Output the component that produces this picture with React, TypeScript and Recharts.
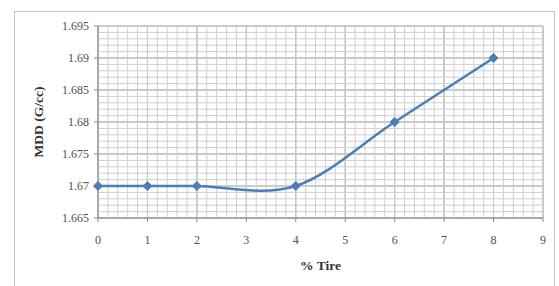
import React from "react";
import { LineChart, Line, XAxis, YAxis, CartesianGrid, Label, ReferenceLine } from "recharts";

const tirePercent = [0, 1, 2, 4, 6, 8];
const mddValues = [1.67, 1.67, 1.67, 1.67, 1.68, 1.69];
const xTicks = [0, 1, 2, 3, 4, 5, 6, 7, 8, 9];
const yTicks = [1.665, 1.67, 1.675, 1.68, 1.685, 1.69, 1.695];

const data = tirePercent.map((x, i) => ({ x, y: mddValues[i] }));

const minorX = Array.from({ length: 46 }, (_, i) => +(i * 0.2).toFixed(2));
const minorY = Array.from({ length: 31 }, (_, i) => +(1.665 + i * 0.001).toFixed(3));

// Excel-style smoothed line (Catmull-Rom with 1/6 tangents)
function excelCurve(context: any) {
  let pts: number[][] = [];
  return {
    areaStart() {},
    areaEnd() {},
    lineStart() {
      pts = [];
    },
    point(x: number, y: number) {
      pts.push([+x, +y]);
    },
    lineEnd() {
      const n = pts.length;
      if (!n) return;
      context.moveTo(pts[0][0], pts[0][1]);
      for (let i = 0; i < n - 1; i++) {
        const p0 = pts[i - 1] || pts[i];
        const p1 = pts[i];
        const p2 = pts[i + 1];
        const p3 = pts[i + 2] || p2;
        context.bezierCurveTo(
          p1[0] + (p2[0] - p0[0]) / 6,
          p1[1] + (p2[1] - p0[1]) / 6,
          p2[0] - (p3[0] - p1[0]) / 6,
          p2[1] - (p3[1] - p1[1]) / 6,
          p2[0],
          p2[1]
        );
      }
    },
  };
}

const Diamond = (props: any) => {
  const { cx, cy, index } = props;
  if (cx == null || cy == null) return null;
  const r = 4.5;
  return (
    <path
      key={`d-${index}`}
      d={`M${cx},${cy - r}L${cx + r},${cy}L${cx},${cy + r}L${cx - r},${cy}Z`}
      fill="#4a7ebb"
      stroke="#4a7ebb"
    />
  );
};

const font = "'Liberation Serif', 'Times New Roman', serif";

const XTick = (props: any) => {
  const { x, y, payload } = props;
  return (
    <text x={x} y={y + 20} textAnchor="middle" style={{ fontFamily: font }} fontSize={12} fill="#505050">
      {payload.value}
    </text>
  );
};

const YTick = (props: any) => {
  const { x, y, payload } = props;
  return (
    <text x={x - 3} y={y + 4} textAnchor="end" style={{ fontFamily: font }} fontSize={12} fill="#505050">
      {payload.value}
    </text>
  );
};

export default function App() {
  return (
    <div style={{ position: "fixed", left: 0, top: 0, width: 559, height: 286, background: "#fff", overflow: "hidden" }}>
      <div
        style={{
          position: "absolute",
          left: 14,
          top: 11,
          width: 541,
          height: 300,
          border: "1px solid #c4c4c4",
          boxSizing: "border-box",
        }}
      />
      <div style={{ position: "absolute", left: 0, top: 0 }}>
        <LineChart width={559} height={286} data={data} margin={{ top: 26, right: 16, bottom: 38, left: 38 }}>
          {minorX.map((v) => (
            <ReferenceLine key={`mx${v}`} x={v} stroke="#cfcfcf" strokeWidth={1} />
          ))}
          {minorY.map((v) => (
            <ReferenceLine key={`my${v}`} y={v} stroke="#cfcfcf" strokeWidth={1} />
          ))}
          <CartesianGrid
            stroke="#8c8c8c"
            strokeWidth={1}
            fill="none"
            verticalValues={xTicks}
            horizontalValues={yTicks}
          />
          <XAxis
            dataKey="x"
            type="number"
            domain={[0, 9]}
            ticks={xTicks}
            height={30}
            stroke="#888"
            tickSize={4}
            tick={<XTick />}
          >
            <Label
              value="% Tire"
              position="bottom"
              offset={12}
              style={{ fill: "#333", fontSize: 13.5, fontWeight: "bold", fontFamily: font }}
            />
          </XAxis>
          <YAxis
            dataKey="y"
            type="number"
            domain={[1.665, 1.695]}
            ticks={yTicks}
            width={60}
            stroke="#888"
            tickSize={4}
            tick={<YTick />}
          >
            <Label
              value="MDD (G/cc)"
              angle={-90}
              position="left"
              offset={0}
              style={{ fill: "#333", fontSize: 13.5, fontWeight: "bold", fontFamily: font, textAnchor: "middle" }}
            />
          </YAxis>
          <Line
            dataKey="y"
            type={excelCurve as any}
            stroke="#4a7ebb"
            strokeWidth={2.5}
            dot={<Diamond />}
            activeDot={false}
            isAnimationActive={false}
          />
        </LineChart>
      </div>
    </div>
  );
}
